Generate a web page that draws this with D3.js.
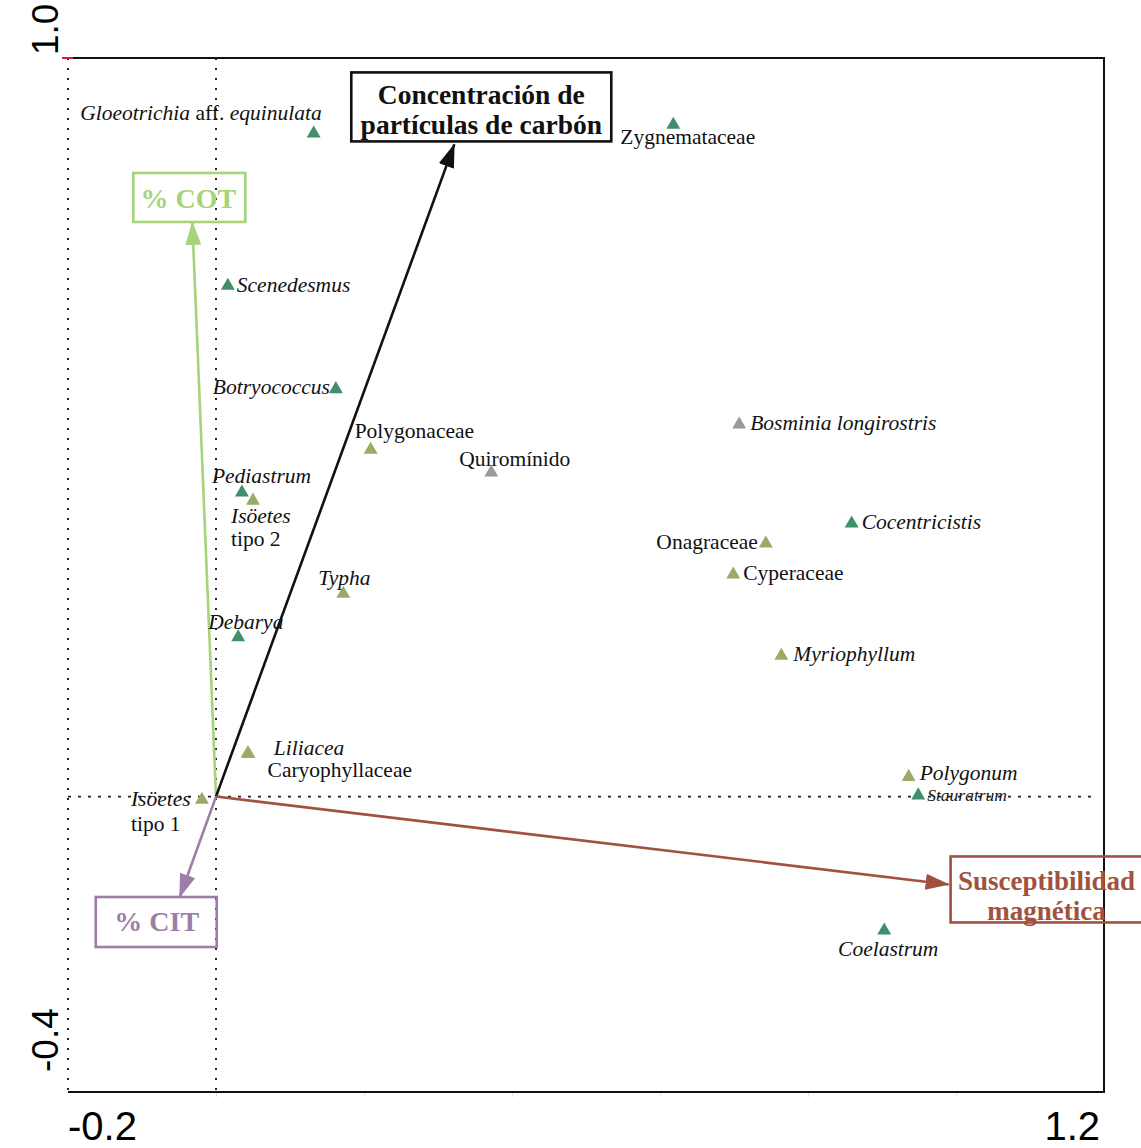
<!DOCTYPE html>
<html>
<head>
<meta charset="utf-8">
<script src="https://cdn.jsdelivr.net/npm/d3@7"></script>
<style>
  html, body { margin: 0; padding: 0; background: #fff; }
  svg { display: block; }
</style>
</head>
<body>
<svg id="chart" width="1141" height="1148"></svg>
<script>
// Taxa scores on the first two ordination axes
const taxa = [
  "Gloeotrichia aff. equinulata", "Zygnemataceae", "Scenedesmus", "Botryococcus",
  "Polygonaceae", "Quiromínido", "Bosminia longirostris", "Pediastrum",
  "Isöetes tipo 2", "Typha", "Debarya", "Cocentricistis", "Onagraceae",
  "Cyperaceae", "Myriophyllum", "Liliacea", "Caryophyllaceae",
  "Isöetes tipo 1", "Polygonum", "Stauratrum", "Coelastrum"
];
const axis1 = [
  0.132, 0.618, 0.016, 0.162,
  0.209, 0.372, 0.707, 0.035,
  0.050, 0.172, 0.030, 0.859, 0.743,
  0.699, 0.764, 0.043, 0.044,
  -0.019, 0.936, 0.949, 0.903
];
const axis2 = [
  0.899, 0.911, 0.693, 0.553,
  0.471, 0.440, 0.505, 0.413,
  0.402, 0.276, 0.217, 0.371, 0.344,
  0.302, 0.192, 0.060, 0.059,
  -0.003, 0.028, 0.003, -0.180
];
// algae / pollen / fauna
const groups = [
  "alga", "alga", "alga", "alga",
  "polen", "fauna", "fauna", "alga",
  "polen", "polen", "alga", "alga", "polen",
  "polen", "polen", "polen", "polen",
  "polen", "polen", "alga", "alga"
];

// Environmental variable vectors
const variables = ["% COT", "Concentración de partículas de carbón", "% CIT", "Susceptibilidad magnética"];
const varAxis1 = [-0.032, 0.322, -0.049, 0.990];
const varAxis2 = [0.778, 0.883, -0.136, -0.119];

// Axis extents and tick labels
const xDomain = [-0.2, 1.2];
const yDomain = [-0.4, 1.0];
const xTickLabels = ["-0.2", "1.2"];
const yTickLabels = ["1.0", "-0.4"];
const xMinorTicks = [0, 0.2, 0.4, 0.6, 0.8, 1.0];

const svg = d3.select("#chart");
const x = d3.scaleLinear().domain(xDomain).range([68, 1104]);
const y = d3.scaleLinear().domain(yDomain).range([1092, 58]);

const serif = "'Liberation Serif', 'Times New Roman', serif";
const sans = "'Liberation Sans', Arial, sans-serif";
const labelSize = 21.5;

const groupColor = { alga: "#3f8e6c", polen: "#9aab68", fauna: "#9a9a9a" };
const varColor = ["#a6d47a", "#111111", "#9c7ea8", "#a0523f"];

// faint bottom ticks
const xAxis = d3.axisBottom(x).tickValues(xMinorTicks).tickSize(5).tickFormat("");
const gx = svg.append("g").attr("transform", `translate(0,${y(yDomain[0])})`).call(xAxis);
gx.select(".domain").remove();
gx.selectAll(".tick line").attr("stroke", "#e2e2e2").attr("stroke-width", 1);

// reference lines through origin and left edge (dotted)
svg.append("line")
  .attr("x1", x(0)).attr("x2", x(0)).attr("y1", y(yDomain[1])).attr("y2", y(yDomain[0]))
  .attr("stroke", "#222").attr("stroke-width", 2).attr("stroke-dasharray", "2,8");
svg.append("line")
  .attr("x1", x(xDomain[0])).attr("x2", x(xDomain[0])).attr("y1", y(yDomain[1])).attr("y2", y(yDomain[0]))
  .attr("stroke", "#222").attr("stroke-width", 2).attr("stroke-dasharray", "2,8");
svg.append("line")
  .attr("x1", x(xDomain[0])).attr("x2", x(xDomain[1]) - 6).attr("y1", y(0)).attr("y2", y(0))
  .attr("stroke", "#222").attr("stroke-width", 1.8).attr("stroke-dasharray", "3,7");

// frame: top, right, bottom
svg.append("path")
  .attr("d", `M${x(xDomain[0])},${y(yDomain[1])}H${x(xDomain[1])}V${y(yDomain[0])}H${x(xDomain[0])}`)
  .attr("fill", "none").attr("stroke", "#111").attr("stroke-width", 2);
svg.append("line")
  .attr("x1", x(xDomain[0]) - 6).attr("x2", x(xDomain[0]) + 5)
  .attr("y1", y(yDomain[1])).attr("y2", y(yDomain[1]))
  .attr("stroke", "#d0203a").attr("stroke-width", 2);

// tick labels
svg.append("text").attr("x", x(xDomain[0])).attr("y", 1140)
  .attr("font-family", sans).attr("font-size", 40).attr("text-anchor", "start")
  .text(xTickLabels[0]);
svg.append("text").attr("x", x(xDomain[1]) - 4).attr("y", 1140)
  .attr("font-family", sans).attr("font-size", 40).attr("text-anchor", "end")
  .text(xTickLabels[1]);
svg.append("text").attr("transform", `translate(58,${y(yDomain[1]) - 3}) rotate(-90)`)
  .attr("font-family", sans).attr("font-size", 37).attr("text-anchor", "start")
  .text(yTickLabels[0]);
svg.append("text").attr("transform", `translate(58,${y(yDomain[0]) - 20}) rotate(-90)`)
  .attr("font-family", sans).attr("font-size", 37).attr("text-anchor", "start")
  .text(yTickLabels[1]);

// arrows for the environmental variables
const defs = svg.append("defs");
varColor.forEach((c, i) => {
  defs.append("marker")
    .attr("id", "head" + i)
    .attr("markerUnits", "userSpaceOnUse")
    .attr("viewBox", "0 0 24 16")
    .attr("refX", 23).attr("refY", 8)
    .attr("markerWidth", 24).attr("markerHeight", 16)
    .attr("orient", "auto")
    .append("path").attr("d", "M0,0L24,8L0,16Z").attr("fill", c);
});
variables.forEach((v, i) => {
  svg.append("line")
    .attr("x1", x(0)).attr("y1", y(0))
    .attr("x2", x(varAxis1[i])).attr("y2", y(varAxis2[i]))
    .attr("stroke", varColor[i]).attr("stroke-width", 2.6)
    .attr("marker-end", `url(#head${i})`);
});

// boxed variable labels placed next to each arrow tip
function boxLabel(i, lines, size, bx, by, bw, bh, lineY, cx) {
  const tx = x(varAxis1[i]), ty = y(varAxis2[i]);
  const g = svg.append("g").attr("transform", `translate(${tx},${ty})`);
  g.append("rect").attr("x", bx).attr("y", by).attr("width", bw).attr("height", bh)
    .attr("fill", "none").attr("stroke", varColor[i]).attr("stroke-width", 2.6);
  lines.forEach((t, k) => {
    g.append("text").attr("x", cx).attr("y", lineY[k])
      .attr("text-anchor", "middle").attr("font-family", serif)
      .attr("font-weight", "bold").attr("font-size", size)
      .attr("fill", varColor[i]).text(t);
  });
}
boxLabel(0, ["% COT"], 28, -59, -49, 112, 49, [-14], -4);
boxLabel(1, ["Concentración de", "partículas de carbón"], 27.5, -103, -72, 260, 69, [-40, -10], 27);
boxLabel(2, ["% CIT"], 28, -84, 0, 121, 50, [34], -23);
boxLabel(3, ["Susceptibilidad", "magnética"], 27, 2, -28, 200, 66, [6, 36], 98);

// species markers
const tri = d3.symbol().type(d3.symbolTriangle).size(84);
taxa.forEach((t, i) => {
  svg.append("path")
    .attr("d", tri())
    .attr("transform", `translate(${x(axis1[i])},${y(axis2[i]) + 1})`)
    .attr("fill", groupColor[groups[i]]);
});

// species labels: offset from the marker, anchor, optional second line and size
const italicNames = new Set([
  "Scenedesmus", "Botryococcus", "Bosminia longirostris", "Pediastrum", "Typha",
  "Debarya", "Cocentricistis", "Myriophyllum", "Liliacea", "Polygonum",
  "Stauratrum", "Coelastrum"
]);
const labelLayout = {
  "Gloeotrichia aff. equinulata": { dx: 8, dy: -13, anchor: "end" },
  "Zygnemataceae": { dx: -53, dy: 20, anchor: "start" },
  "Scenedesmus": { dx: 9, dy: 7, anchor: "start" },
  "Botryococcus": { dx: -6, dy: 6, anchor: "end" },
  "Polygonaceae": { dx: -16, dy: -11, anchor: "start" },
  "Quiromínido": { dx: -32, dy: -6, anchor: "start" },
  "Bosminia longirostris": { dx: 11, dy: 6, anchor: "start" },
  "Pediastrum": { dx: -30, dy: -9, anchor: "start" },
  "Isöetes tipo 2": { dx: -22, dy: 23, anchor: "start", second: 46 },
  "Typha": { dx: -25, dy: -8, anchor: "start" },
  "Debarya": { dx: -30, dy: -7, anchor: "start" },
  "Cocentricistis": { dx: 10, dy: 6, anchor: "start" },
  "Onagraceae": { dx: -8, dy: 6, anchor: "end" },
  "Cyperaceae": { dx: 10, dy: 6, anchor: "start" },
  "Myriophyllum": { dx: 12, dy: 6, anchor: "start" },
  "Liliacea": { dx: 26, dy: 3, anchor: "start" },
  "Caryophyllaceae": { dx: 19, dy: 24, anchor: "start" },
  "Isöetes tipo 1": { dx: -71, dy: 7, anchor: "start", second: 32 },
  "Polygonum": { dx: 11, dy: 4, anchor: "start" },
  "Stauratrum": { dx: 9, dy: 7, anchor: "start", size: 17.5 },
  "Coelastrum": { dx: 4, dy: 26, anchor: "middle" }
};

taxa.forEach((t, i) => {
  const L = labelLayout[t];
  const px = x(axis1[i]) + L.dx, py = y(axis2[i]) + L.dy;
  const text = svg.append("text")
    .attr("x", px).attr("y", py)
    .attr("text-anchor", L.anchor)
    .attr("font-family", serif).attr("font-size", L.size || labelSize)
    .attr("fill", "#111");
  if (t === "Gloeotrichia aff. equinulata") {
    text.append("tspan").attr("font-style", "italic").text("Gloeotrichia");
    text.append("tspan").text(" aff. ");
    text.append("tspan").attr("font-style", "italic").text("equinulata");
  } else if (L.second) {
    const parts = t.split(" ");
    text.attr("font-style", "italic").text(parts[0]);
    svg.append("text")
      .attr("x", px).attr("y", y(axis2[i]) + L.second)
      .attr("text-anchor", L.anchor)
      .attr("font-family", serif).attr("font-size", labelSize).attr("fill", "#111")
      .text(parts.slice(1).join(" "));
  } else {
    text.attr("font-style", italicNames.has(t) ? "italic" : "normal").text(t);
  }
});
</script>
</body>
</html>
